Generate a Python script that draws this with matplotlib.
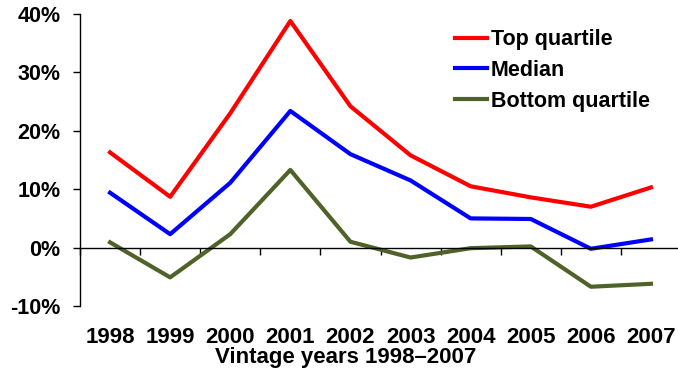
import numpy as np
import matplotlib.pyplot as plt
from matplotlib.ticker import FixedLocator, FuncFormatter

years = ['1998', '1999', '2000', '2001', '2002', '2003', '2004', '2005', '2006', '2007']
top_quartile = [16.3, 8.7, 23.0, 38.8, 24.2, 15.8, 10.5, 8.6, 7.0, 10.3]
median = [9.4, 2.3, 11.1, 23.4, 16.0, 11.5, 5.0, 4.9, -0.2, 1.4]
bottom_quartile = [0.9, -5.1, 2.3, 13.3, 1.0, -1.7, -0.1, 0.2, -6.7, -6.2]

plt.rcParams['font.family'] = ['Liberation Sans', 'DejaVu Sans']
plt.rcParams['font.weight'] = 'bold'

fig = plt.figure(figsize=(6.78, 3.72), dpi=100)
ax = fig.add_axes([80/678, 1-306/372, 601/678, 292/372])

x = np.arange(len(years))
ax.plot(x, top_quartile, color='#ff0000', lw=3, label='Top quartile')
ax.plot(x, median, color='#0000ff', lw=3, label='Median')
ax.plot(x, bottom_quartile, color='#4f6228', lw=3, label='Bottom quartile')

ax.set_xlim(-0.5, len(years)-0.5)
ax.set_ylim(-10, 40)
ax.set_yticks(np.arange(-10, 41, 10))
ax.yaxis.set_major_formatter(FuncFormatter(lambda v, p: '%d%%' % v))

# x axis sits on the zero line, ticks between categories
for s in ['top', 'right']:
    ax.spines[s].set_visible(False)
ax.spines['bottom'].set_position(('data', 0))
ax.spines['bottom'].set_linewidth(1.0)
ax.spines['left'].set_linewidth(1.0)
ax.set_xticks(x)
ax.set_xticklabels(years)
ax.xaxis.set_minor_locator(FixedLocator(np.arange(-0.5, len(years), 1)))
ax.tick_params(axis='x', which='major', length=0, pad=57, labelsize=16)
ax.tick_params(axis='x', which='minor', length=5, direction='out', width=1)
ax.tick_params(axis='y', length=5, width=1, pad=9, labelsize=15.5)

fig.text(346/678, 1-358/372, 'Vintage years 1998\u20132007', ha='center', va='center',
         fontsize=16, fontweight='bold')

ax.legend(loc='upper left', bbox_to_anchor=((455-80)/601, 0.948), frameon=False,
          fontsize=15.5, handlelength=1.5, handletextpad=0.15, labelspacing=0.45,
          borderaxespad=0, borderpad=0)

fig.savefig('out.png', dpi=100)
